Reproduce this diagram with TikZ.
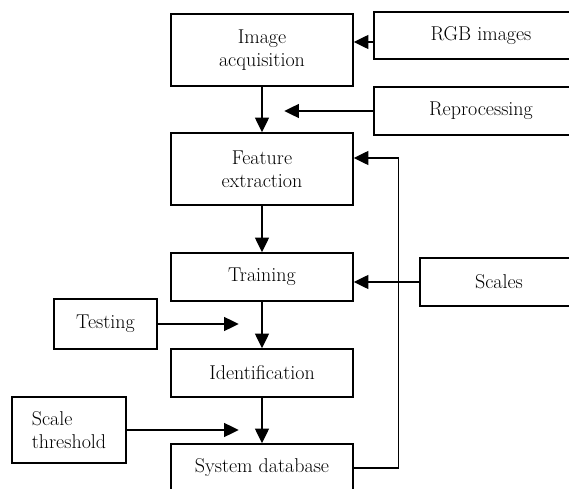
\documentclass[tikz,border=0pt]{standalone}
\usepackage{fontspec}
\usetikzlibrary{arrows.meta,calc}

\begin{document}
\begin{tikzpicture}[x=0.75pt,y=0.75pt,yscale=-1,xscale=1,
        stage/.style={draw,line width=1.1pt,inner sep=0pt,align=center,
            font=\fontsize{15}{17}\selectfont},
        arr/.style={line width=1pt,-{Triangle[length=11pt,width=10.5pt]}}]
        \useasboundingbox (0,0) rectangle (569,489);
        \clip (0,0) rectangle (569,489);

        %Main column
        \node[stage,minimum width=136.5pt,minimum height=54pt] (acq) at (262,50) {Image\\acquisition};
        \node[stage,minimum width=136.5pt,minimum height=54pt] (feat) at (262,169) {Feature\\extraction};
        \node[stage,minimum width=136.5pt,minimum height=36pt] (train) at (262,277) {Training};
        \node[stage,minimum width=136.5pt,minimum height=36pt] (ident) at (262,373) {Identification};
        \node[stage,minimum width=136.5pt,minimum height=36pt] (sysdb) at (262,468) {System database};

        %Inputs on the right
        \node[stage,minimum width=160.5pt,minimum height=35.5pt] (rgb) at (481,35.5) {RGB images};
        \node[stage,minimum width=160.5pt,minimum height=36pt] (reproc) at (481,111) {Reprocessing};
        \node[stage,minimum width=118.5pt,minimum height=36pt] (scales) at (499,282) {Scales};

        %Inputs on the left
        \node[stage,minimum width=77.25pt,minimum height=37.5pt] (test) at (105.5,324) {Testing};
        \node[stage,minimum width=85.5pt,minimum height=49.5pt,align=left] (thresh) at (69,430) {Scale\\threshold};

        %Straight Lines
        \draw[arr] (acq) -- (feat);
        \draw[arr] (feat) -- (train);
        \draw[arr] (train) -- (ident);
        \draw[arr] (ident) -- (sysdb);
        \draw[arr] ($(rgb.west)+(0,6.5)$) -- ($(acq.east)+(0,-8)$);
        \draw[arr] (reproc.west) -- ($(reproc.west)-(89,0)$);
        \draw[arr] (scales.west) -- (scales.west -| train.east);
        \draw[arr] (test.east) -- ($(test.east)+(81,0)$);
        \draw[arr] (thresh.east) -- ($(thresh.east)+(112,0)$);
        \draw[arr] (sysdb.east) -| ($(feat.east)+(45,-11)$) -- ($(feat.east)+(0,-11)$);
\end{tikzpicture}
\end{document}
